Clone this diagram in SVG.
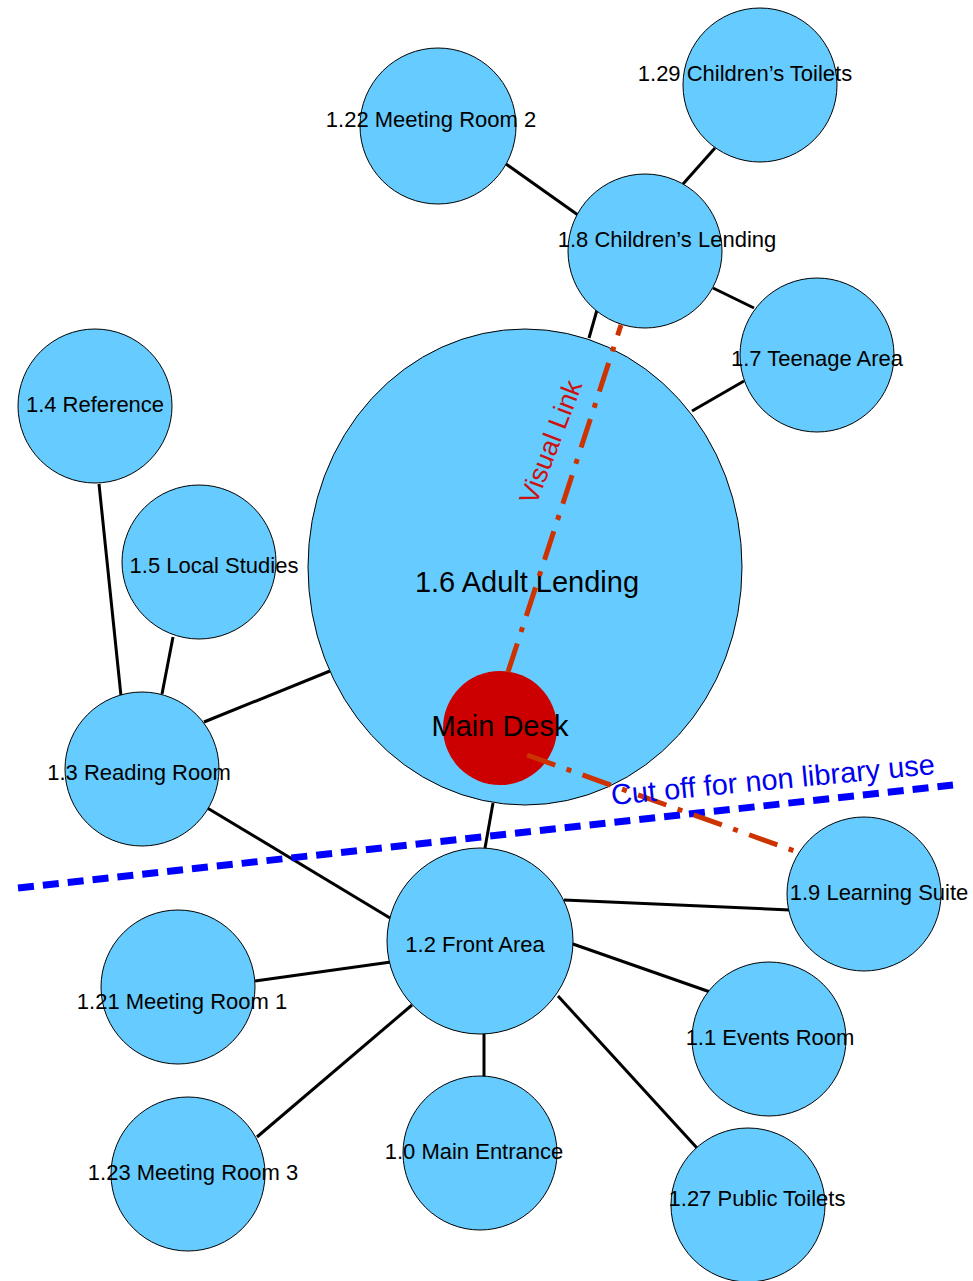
<svg xmlns="http://www.w3.org/2000/svg" width="973" height="1281" viewBox="0 0 973 1281">
<style>
.n{fill:#66CCFF;stroke:#000;stroke-width:1}
.t{font-family:"Liberation Sans",Arial,sans-serif;font-size:22px;fill:#000;text-anchor:middle}
.b{font-size:29px}
.c line{stroke:#000;stroke-width:3}
.vl{stroke:#CC3300;stroke-width:5;stroke-dasharray:30,12,5,12;fill:none}
</style>
<rect width="973" height="1281" fill="#fff"/>
<g id="connectors" class="c">
<line x1="715" y1="148" x2="683" y2="184"/>
<line x1="506" y1="164" x2="578" y2="215"/>
<line x1="713" y1="288" x2="754" y2="308"/>
<line x1="597" y1="310" x2="589" y2="338"/>
<line x1="744" y1="381" x2="692" y2="411"/>
<line x1="99" y1="484" x2="121" y2="696"/>
<line x1="173" y1="637" x2="162" y2="694"/>
<line x1="330" y1="671" x2="204" y2="722"/>
<line x1="204" y1="806" x2="390" y2="918"/>
<line x1="493" y1="803" x2="485" y2="848"/>
<line x1="564" y1="900" x2="790" y2="910"/>
<line x1="255" y1="981" x2="391" y2="962"/>
<line x1="570" y1="943" x2="713" y2="993"/>
<line x1="257" y1="1137" x2="412" y2="1005"/>
<line x1="484" y1="1034" x2="484" y2="1077"/>
<line x1="558" y1="996" x2="697" y2="1148"/>
</g>
<g id="n129"><circle class="n" cx="760" cy="85" r="77"/><text class="t" x="745" y="81">1.29 Children’s Toilets</text></g>
<g id="n122"><circle class="n" cx="438" cy="126" r="78"/><text class="t" x="431" y="127">1.22 Meeting Room 2</text></g>
<g id="n18"><circle class="n" cx="645" cy="251" r="77"/><text class="t" x="667" y="247">1.8 Children’s Lending</text></g>
<g id="n17"><circle class="n" cx="817" cy="355" r="77"/><text class="t" x="817" y="366">1.7 Teenage Area</text></g>
<g id="n14"><circle class="n" cx="95" cy="406" r="77"/><text class="t" x="95" y="412">1.4 Reference</text></g>
<g id="n15"><circle class="n" cx="199" cy="562" r="77"/><text class="t" x="214" y="573">1.5 Local Studies</text></g>
<g id="n16"><ellipse class="n" cx="525" cy="567" rx="217" ry="238"/><text class="t b" x="527" y="592">1.6 Adult Lending</text></g>
<g id="mainDesk"><circle cx="500" cy="728" r="57" fill="#CC0000"/><text class="t b" x="500" y="736">Main Desk</text></g>
<g id="n13"><circle class="n" cx="142" cy="769" r="77"/><text class="t" x="139" y="780">1.3 Reading Room</text></g>
<g id="n12"><circle class="n" cx="480" cy="941" r="93"/><text class="t" x="475" y="952">1.2 Front Area</text></g>
<g id="n19"><circle class="n" cx="864" cy="894" r="77"/><text class="t" x="879" y="900">1.9 Learning Suite</text></g>
<g id="n121"><circle class="n" cx="178" cy="987" r="77"/><text class="t" x="182" y="1009">1.21 Meeting Room 1</text></g>
<g id="n11"><circle class="n" cx="769" cy="1039" r="77"/><text class="t" x="770" y="1045">1.1 Events Room</text></g>
<g id="n123"><circle class="n" cx="188" cy="1174" r="77"/><text class="t" x="193" y="1180">1.23 Meeting Room 3</text></g>
<g id="n10"><circle class="n" cx="480" cy="1153" r="77"/><text class="t" x="474" y="1159">1.0 Main Entrance</text></g>
<g id="n127"><circle class="n" cx="748" cy="1205" r="77"/><text class="t" x="757" y="1206">1.27 Public Toilets</text></g>
<g id="annotations">
<line x1="18" y1="888" x2="953" y2="785" stroke="#0000FF" stroke-width="7" stroke-dasharray="16,9"/>
<line class="vl" x1="508" y1="672" x2="621" y2="325"/>
<line class="vl" x1="527" y1="755" x2="800" y2="853"/>
<text transform="translate(536,506) rotate(-69)" font-family="Liberation Sans,Arial,sans-serif" font-size="27" fill="#CC1111">Visual Link</text>
<text transform="translate(612,805) rotate(-5.5)" font-family="Liberation Sans,Arial,sans-serif" font-size="29" fill="#0000EE">Cut off for non library use</text>
</g>
</svg>
